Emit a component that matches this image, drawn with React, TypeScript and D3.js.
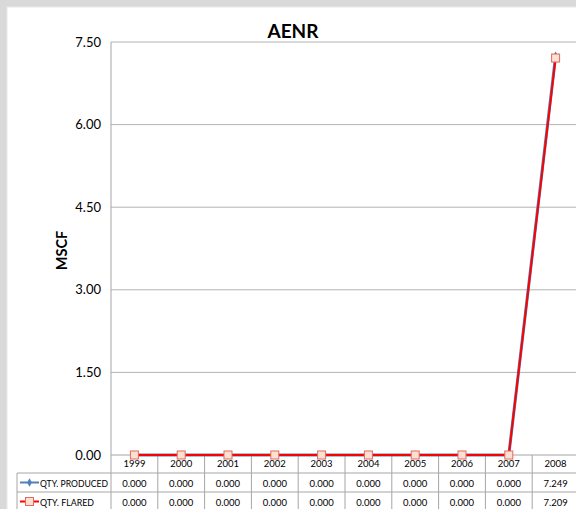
import React from "react";
import * as d3 from "d3";

const years = ["1999", "2000", "2001", "2002", "2003", "2004", "2005", "2006", "2007", "2008"];
const produced = [0, 0, 0, 0, 0, 0, 0, 0, 0, 7.249];
const flared = [0, 0, 0, 0, 0, 0, 0, 0, 0, 7.209];
const yTicks = [0, 1.5, 3, 4.5, 6, 7.5];
const seriesNames = ["QTY. PRODUCED", "QTY. FLARED"];

const W = 576, H = 509;
const L = 111, R = 579, T = 42, B = 455;
const FONT = "Lato, 'Open Sans', sans-serif";

export default function App() {
  const x = d3.scaleBand<string>().domain(years).range([L, R]);
  const y = d3.scaleLinear().domain([0, 7.5]).range([B, T]);
  const cx = (d: string) => (x(d) as number) + x.bandwidth() / 2;
  const line = d3.line<number>().x((_, i) => cx(years[i])).y((v) => y(v));
  const rowTop = [B, 473, 492, 511];
  const grid = "#b3b3b3";
  const tableLine = "#a6a6a6";
  const nameWidths = [68, 54];
  return (
    <div style={{ position: "fixed", left: 0, top: 0 }}>
      <svg width={W} height={H} style={{ display: "block", fontFamily: FONT }}>
        <rect x={0} y={0} width={W} height={H} fill="#d9d9d9" />
        <rect x={7} y={7} width={W} height={H} fill="#ffffff" stroke="#e8e8e8" />
        <text x={293} y={38} textAnchor="middle" fontSize={19} fontWeight="bold" fill="#000">AENR</text>
        {yTicks.map((t) => (
          <g key={t}>
            {t > 0 && <line x1={L} x2={W} y1={y(t)} y2={y(t)} stroke={grid} strokeWidth={1} />}
            <text x={101} y={y(t) + 4.5} textAnchor="end" fontSize={13} fill="#000">{t.toFixed(2)}</text>
          </g>
        ))}
        <text transform={`translate(67,${(T + B) / 2 + 2}) rotate(-90)`} textAnchor="middle" fontSize={14.5} fontWeight="bold" fill="#000">MSCF</text>
        <line x1={L} x2={L} y1={T} y2={H} stroke={tableLine} />
        <line x1={L} x2={W} y1={B} y2={B} stroke={tableLine} />
        {years.map((yr) => (
          <line key={"v" + yr} x1={(x(yr) as number) + x.bandwidth()} x2={(x(yr) as number) + x.bandwidth()} y1={B} y2={H} stroke={tableLine} />
        ))}
        <line x1={17} x2={W} y1={rowTop[1]} y2={rowTop[1]} stroke={tableLine} />
        <line x1={17} x2={W} y1={rowTop[2]} y2={rowTop[2]} stroke={tableLine} />
        <line x1={17} x2={17} y1={rowTop[1]} y2={H} stroke={tableLine} />
        {years.map((yr) => (
          <text key={"y" + yr} x={cx(yr)} y={467} textAnchor="middle" fontSize={9.5} fill="#000">{yr}</text>
        ))}
        {[produced, flared].map((vals, r) => (
          <g key={"r" + r}>
            {vals.map((v, i) => (
              <text key={i} x={cx(years[i])} y={rowTop[r + 1] + 13.5} textAnchor="middle" fontSize={9.5} fill="#000">{v.toFixed(3)}</text>
            ))}
            <text x={40} y={rowTop[r + 1] + 13.5} fontSize={10} fill="#000" textLength={nameWidths[r]} lengthAdjust="spacingAndGlyphs">{seriesNames[r]}</text>
          </g>
        ))}
        <line x1={20} x2={39} y1={482.5} y2={482.5} stroke="#4f81bd" strokeWidth={2} />
        <path d={d3.symbol(d3.symbolDiamond, 20)() as string} transform="translate(29.5,482.5)" fill="#4f81bd" />
        <line x1={20} x2={39} y1={501.5} y2={501.5} stroke="#ff0000" strokeWidth={2} />
        <rect x={25.5} y={497.5} width={8} height={8} fill="#fde0d2" stroke="#e06a5e" strokeWidth={1} />
        <path d={line(produced) as string} fill="none" stroke="#4f81bd" strokeWidth={3} />
        {produced.map((v, i) => (
          <path key={"d" + i} d={d3.symbol(d3.symbolDiamond, 22)() as string} transform={`translate(${cx(years[i])},${y(v)})`} fill="#4f81bd" />
        ))}
        <path d={line(flared) as string} fill="none" stroke="#ff0000" strokeWidth={2} />
        {flared.map((v, i) => (
          <rect key={"s" + i} x={cx(years[i]) - 4} y={y(v) - 4} width={8} height={8} fill="#fde0d2" stroke="#e06a5e" strokeWidth={1} />
        ))}
      </svg>
    </div>
  );
}
